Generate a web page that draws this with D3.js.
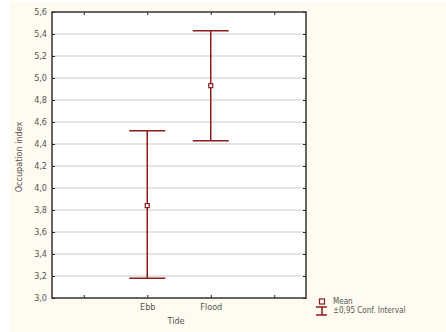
<!DOCTYPE html>
<html>
<head>
<meta charset="utf-8">
<script src="https://cdn.jsdelivr.net/npm/d3@7"></script>
<style>
  body { margin: 0; background: #fff; }
  text { font-family: "Liberation Sans Narrow", "Arial Narrow", "DejaVu Sans Condensed", sans-serif; }
</style>
</head>
<body>
<div id="chart"></div>
<script>
const categorias = ["", "Ebb", "Flood", " "];
const tides = ["Ebb", "Flood"];
const medias = [3.84, 4.93];
const ciLow = [3.18, 4.43];
const ciHigh = [4.52, 5.43];
const yTicks = [3.0, 3.2, 3.4, 3.6, 3.8, 4.0, 4.2, 4.4, 4.6, 4.8, 5.0, 5.2, 5.4, 5.6];

const width = 446, height = 332;
const m = {left: 52, right: 140, top: 12, bottom: 34};
const rojo = "#8b1c1c";
const gris = "#555";
const fmt = d => d3.format(".1f")(d).replace(".", ",");

const svg = d3.select("#chart").append("svg")
    .attr("width", width).attr("height", height);

svg.append("rect")
    .attr("x", 10).attr("y", 2)
    .attr("width", width - 10).attr("height", height - 2)
    .attr("fill", "#fffbf0");

const x = d3.scalePoint()
    .domain(categorias)
    .range([m.left, width - m.right])
    .padding(0.5);

const y = d3.scaleLinear()
    .domain([3.0, 5.6])
    .range([height - m.bottom, m.top]);

svg.append("rect")
    .attr("x", m.left).attr("y", m.top)
    .attr("width", width - m.right - m.left)
    .attr("height", height - m.bottom - m.top)
    .attr("fill", "#fff");

// gridlines
svg.append("g")
    .selectAll("line")
    .data(yTicks.slice(1, -1))
    .enter().append("line")
    .attr("x1", m.left).attr("x2", width - m.right)
    .attr("y1", d => y(d)).attr("y2", d => y(d))
    .attr("stroke", "#c8c8c8").attr("stroke-width", 1);

// axes
const axisY = svg.append("g")
    .attr("transform", `translate(${m.left},0)`)
    .call(d3.axisLeft(y).tickValues(yTicks).tickFormat(fmt).tickSize(-3).tickPadding(5));
const axisYR = svg.append("g")
    .attr("transform", `translate(${width - m.right},0)`)
    .call(d3.axisRight(y).tickValues(yTicks).tickFormat("").tickSize(-3));
const axisX = svg.append("g")
    .attr("transform", `translate(0,${height - m.bottom})`)
    .call(d3.axisBottom(x).tickSize(-3).tickPadding(6));
const axisXT = svg.append("g")
    .attr("transform", `translate(0,${m.top})`)
    .call(d3.axisTop(x).tickFormat("").tickSize(-3));

[axisY, axisYR, axisX, axisXT].forEach(g => {
    g.select(".domain").remove();
    g.selectAll(".tick line").attr("stroke", "#222");
    g.selectAll("text").attr("fill", gris).attr("font-size", "9px");
});

// frame
svg.append("rect")
    .attr("x", m.left).attr("y", m.top)
    .attr("width", width - m.right - m.left)
    .attr("height", height - m.bottom - m.top)
    .attr("fill", "none")
    .attr("stroke", "#333").attr("stroke-width", 1.5);

// error bars
const cap = 18;
const bars = svg.append("g");
tides.forEach((t, i) => {
    const cx = x(t);
    bars.append("line")
        .attr("x1", cx).attr("x2", cx)
        .attr("y1", y(ciLow[i])).attr("y2", y(ciHigh[i]))
        .attr("stroke", rojo).attr("stroke-width", 1.5);
    [ciLow[i], ciHigh[i]].forEach(v => {
        bars.append("line")
            .attr("x1", cx - cap).attr("x2", cx + cap)
            .attr("y1", y(v)).attr("y2", y(v))
            .attr("stroke", rojo).attr("stroke-width", 1.5);
    });
    bars.append("rect")
        .attr("x", cx - 2).attr("y", y(medias[i]) - 2)
        .attr("width", 4).attr("height", 4)
        .attr("fill", "#fff")
        .attr("stroke", rojo).attr("stroke-width", 1.2);
});

// axis titles
svg.append("text")
    .attr("x", x("Ebb") + (x("Flood") - x("Ebb")) / 2 - 3)
    .attr("y", height - 8)
    .attr("text-anchor", "middle")
    .attr("font-size", "9px").attr("fill", gris)
    .text("Tide");

svg.append("text")
    .attr("transform", `translate(22,${(m.top + height - m.bottom) / 2 + 2}) rotate(-90)`)
    .attr("text-anchor", "middle")
    .attr("font-size", "9px").attr("fill", gris)
    .text("Occupation index");

// legend
const lx = 322, ly = 303;
svg.append("rect")
    .attr("x", lx - 2.5).attr("y", ly - 4)
    .attr("width", 5).attr("height", 5)
    .attr("fill", "#fff").attr("stroke", rojo).attr("stroke-width", 1.2);
svg.append("line")
    .attr("x1", lx - 6).attr("x2", lx + 5).attr("y1", ly + 4).attr("y2", ly + 4)
    .attr("stroke", rojo).attr("stroke-width", 1.5);
svg.append("line")
    .attr("x1", lx - 6).attr("x2", lx + 5).attr("y1", ly + 12).attr("y2", ly + 12)
    .attr("stroke", rojo).attr("stroke-width", 1.5);
svg.append("line")
    .attr("x1", lx).attr("x2", lx).attr("y1", ly + 4).attr("y2", ly + 12)
    .attr("stroke", rojo).attr("stroke-width", 1.5);
svg.append("text")
    .attr("x", 333).attr("y", 304)
    .attr("font-size", "8px").attr("fill", gris)
    .text("Mean");
svg.append("text")
    .attr("x", 333).attr("y", 313)
    .attr("font-size", "8px").attr("fill", gris)
    .text("±0,95 Conf. Interval");
</script>
</body>
</html>
